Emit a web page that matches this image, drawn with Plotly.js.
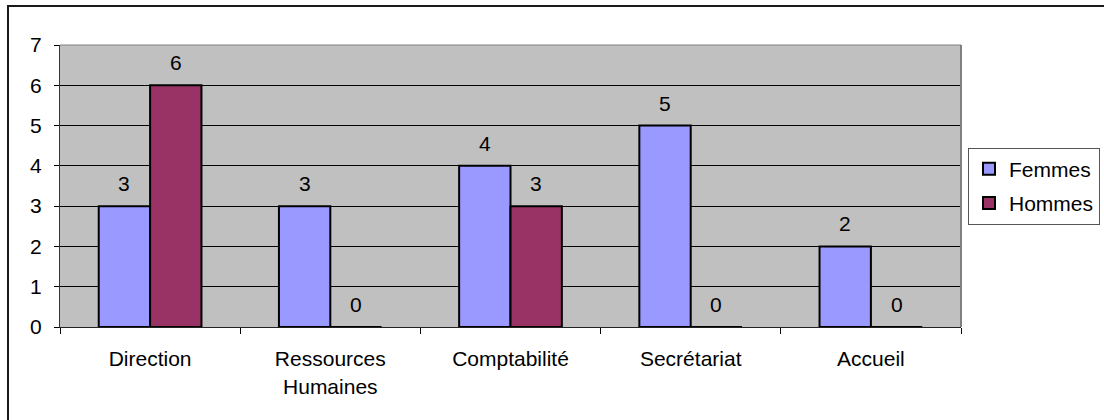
<!DOCTYPE html>
<html>
<head>
<meta charset="utf-8">
<script src="https://cdn.plot.ly/plotly-3.0.1.min.js"></script>
<style>
  html, body { margin: 0; padding: 0; overflow: hidden; background: #ffffff; }
  #chart { position: absolute; left: 0; top: 0; width: 1104px; height: 420px; }
  #frame { position: absolute; left: 7px; top: 5px; width: 2000px; height: 2000px;
           border-left: 2px solid #1a1a1a; border-top: 2px solid #1a1a1a; pointer-events: none; }
</style>
</head>
<body>
<div id="chart"></div>
<div id="frame"></div>
<script>
// Effectifs par service et par sexe
const services = ['Direction', 'Ressources<br>Humaines', 'Comptabilité', 'Secrétariat', 'Accueil'];
const femmes = [3, 3, 4, 5, 2];
const hommes = [6, 0, 3, 0, 0];
const yTicks = [0, 1, 2, 3, 4, 5, 6, 7];

const W = 1104, H = 420;
const margin = { l: 60, r: 143, t: 45, b: 93, autoexpand: false };
const barGap = 0.43;
const FONT = 'Liberation Sans, Arial, sans-serif';
const FS = 21;

// horizontal offset of each bar inside its category group (grouped bars)
const catPx = (W - margin.l - margin.r) / services.length;
const barShift = catPx * (1 - barGap) / 4;

const traces = [
  { type: 'bar', name: 'Femmes', x: services, y: femmes, legendgroup: 'f',
    marker: { color: '#9999FF', line: { color: '#000000', width: 2 } }, hoverinfo: 'x+y' },
  { type: 'bar', name: 'Hommes', x: services, y: hommes, legendgroup: 'h',
    marker: { color: '#993366', line: { color: '#000000', width: 2 } }, hoverinfo: 'x+y' }
];

// value labels above each bar
const labels = [];
[[femmes, -barShift], [hommes, barShift]].forEach(([vals, dx]) => {
  vals.forEach((v, i) => {
    labels.push({
      x: services[i], y: v, xref: 'x', yref: 'y', text: String(v),
      showarrow: false, yanchor: 'bottom', xanchor: 'center',
      xshift: dx, yshift: 9,
      font: { family: FONT, size: FS, color: '#000000' }
    });
  });
});

const layout = {
  width: W, height: H, margin: margin,
  paper_bgcolor: 'rgba(0,0,0,0)', plot_bgcolor: '#C0C0C0',
  barmode: 'group', bargap: barGap, bargroupgap: 0,
  showlegend: true,
  legend: {
    x: (968 - margin.l) / (W - margin.l - margin.r), xanchor: 'left',
    y: 0.5, yanchor: 'middle',
    bgcolor: '#ffffff', bordercolor: '#555555', borderwidth: 1,
    font: { family: FONT, size: FS, color: '#000000' },
    tracegroupgap: 4, itemwidth: 30
  },
  xaxis: {
    type: 'category', tickson: 'boundaries', ticks: 'outside', ticklen: 6,
    tickcolor: '#000000', tickwidth: 1,
    showline: true, linecolor: '#222222', linewidth: 1,
    showgrid: false, zeroline: false, ticklabelstandoff: 13,
    tickfont: { family: FONT, size: FS, color: '#000000' }
  },
  yaxis: {
    range: [0, 7], tickvals: yTicks, ticks: 'outside', ticklen: 5,
    tickcolor: '#000000', tickwidth: 1,
    showline: true, linecolor: '#333333', linewidth: 1,
    showgrid: true, gridcolor: '#000000', gridwidth: 1, zeroline: false,
    ticklabelstandoff: 8,
    tickfont: { family: FONT, size: FS, color: '#000000' }
  },
  shapes: [
    { type: 'line', xref: 'paper', yref: 'paper', x0: 0, x1: 1, y0: 1, y1: 1,
      line: { color: '#808080', width: 1 }, layer: 'above' },
    { type: 'line', xref: 'paper', yref: 'paper', x0: 1, x1: 1, y0: 0, y1: 1,
      line: { color: '#808080', width: 2 }, layer: 'above' }
  ],
  annotations: labels
};

Plotly.newPlot('chart', traces, layout, { displayModeBar: false, staticPlot: true });
</script>
</body>
</html>
